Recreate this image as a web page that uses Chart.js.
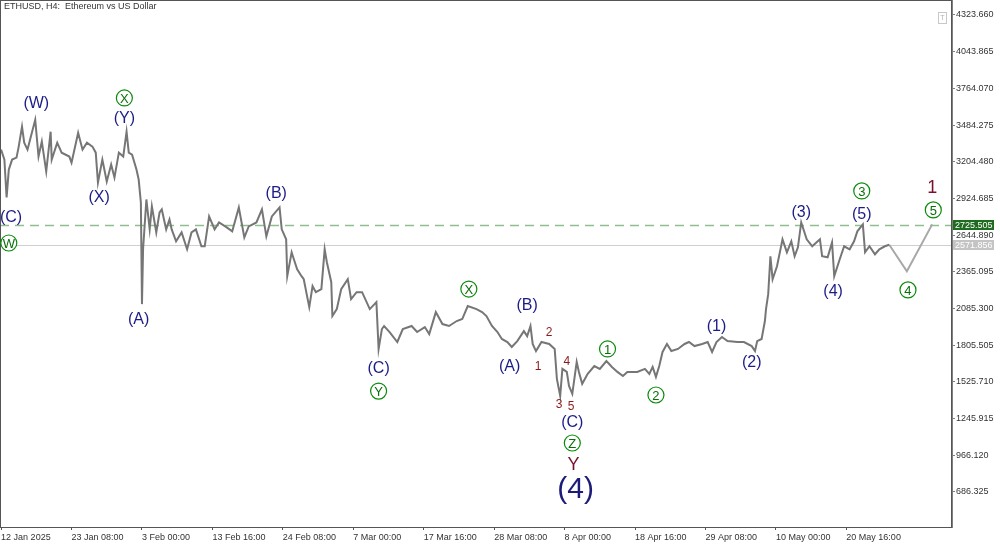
<!DOCTYPE html>
<html>
<head>
<meta charset="utf-8">
<script src="https://cdn.jsdelivr.net/npm/chart.js@4"></script>
<style>
  html, body { margin: 0; padding: 0; background: #fff; }
  #wrap { width: 1000px; height: 545px; }
</style>
</head>
<body>
<div id="wrap"><canvas id="ethChart" width="1000" height="545"></canvas></div>
<script>
// H4 bar index (64 bars between date ticks) and price
const barIndex = [0,3,5,7,10,14,16,19,21,24,27,31,34,37,41,45,46,51,55,62,64,70,74,78,83,86,88,92,96,100,103,107,111,114,116,119,123,125,127,128,129,132,135,137,141,144,146,150,153,155,159,164,169,173,177,182,185,189,194,198,205,210,216,221,225,232,237,241,246,253,255,259,260,264,266,269,273,275,278,280,283,286,291,294,296,300,301,305,309,315,318,323,328,335,341,343,346,348,353,360,365,373,378,385,389,395,401,407,414,419,424,432,437,441,446,451,455,460,464,469,475,478,481,483,486,491,498,503,505,508,510,514,516,519,523,525,528,533,539,544,550,555,560,565,569,578,585,589,592,595,598,601,605,609,615,621,625,630,637,642,646,650,655,660,669,675,682,685,687,691,694,695,697,699,701,705,710,714,718,721,724,727,732,737,744,746,751,755,757,762,766,771,775,778,783,785,789,794,798,803,807];
const closePrice = [3297,3221,2932,3145,3221,3236,3320,3472,3350,3297,3396,3525,3244,3358,3130,3434,3221,3350,3274,3244,3198,3426,3297,3350,3320,3274,3046,3221,3054,3183,3084,3274,3244,3434,3274,3259,3145,3069,2894,2119,2537,2917,2689,2864,2666,2818,2841,2689,2765,2689,2598,2666,2537,2666,2689,2560,2560,2788,2689,2742,2704,2674,2856,2628,2712,2742,2841,2636,2788,2856,2689,2613,2332,2514,2461,2385,2332,2309,2180,2096,2256,2210,2233,2537,2438,2286,2028,2081,2233,2309,2157,2210,2210,2081,2134,1777,1929,1952,1906,1830,1929,1952,1906,1944,1891,2058,1967,1952,1990,2005,2104,2081,2058,2028,1952,1906,1853,1830,1792,1837,1913,1875,1952,1815,1761,1830,1815,1777,1549,1419,1625,1602,1495,1435,1678,1602,1511,1587,1647,1625,1685,1640,1602,1571,1602,1602,1625,1587,1640,1564,1647,1754,1815,1761,1777,1815,1830,1799,1815,1830,1754,1830,1868,1837,1830,1830,1799,1761,1837,1853,1990,2081,2195,2484,2309,2408,2613,2514,2598,2484,2552,2742,2613,2560,2613,2484,2476,2590,2332,2461,2560,2537,2598,2674,2727,2514,2560,2499,2537,2560,2572];

// projected wave 4 / wave 5 path
const projBar = [807, 823, 846];
const projPrice = [2572, 2370, 2727];

const priceTicks = [4323.660,4043.865,3764.070,3484.275,3204.480,2924.685,2644.890,2365.095,2085.300,1805.505,1525.710,1245.915,966.120,686.325];
const dateTicks = [0,64,128,192,256,320,384,448,512,576,640,704,768];
const dateLabels = ['12 Jan 2025','23 Jan 08:00','3 Feb 00:00','13 Feb 16:00','24 Feb 08:00','7 Mar 00:00','17 Mar 16:00','28 Mar 08:00','8 Apr 00:00','18 Apr 16:00','29 Apr 08:00','10 May 00:00','20 May 16:00'];

const targetLevel = 2725.505;
const lastPrice = 2571.856;

// wave labels: kind n = navy, g = green circled, r = dark red
const waveLabels = [
    {t:'(W)', x:32,  y:3645, k:'n'},
    {t:'X',   x:112, y:3691, k:'g'},
    {t:'(Y)', x:112, y:3531, k:'n'},
    {t:'(X)', x:89,  y:2928, k:'n'},
    {t:'(C)', x:9,   y:2776, k:'n'},
    {t:'W',   x:7,   y:2585, k:'g'},
    {t:'(A)', x:125, y:1998, k:'n'},
    {t:'(B)', x:250, y:2959, k:'n'},
    {t:'(C)', x:343, y:1624, k:'n'},
    {t:'Y',   x:343, y:1456, k:'g'},
    {t:'X',   x:425, y:2234, k:'g'},
    {t:'(B)', x:478, y:2105, k:'n'},
    {t:'(A)', x:462, y:1639, k:'n'},
    {t:'1',   x:488, y:1639, k:'r'},
    {t:'2',   x:498, y:1899, k:'r'},
    {t:'3',   x:507, y:1350, k:'r'},
    {t:'4',   x:514, y:1677, k:'r'},
    {t:'5',   x:518, y:1334, k:'r'},
    {t:'(C)', x:519, y:1212, k:'n'},
    {t:'Z',   x:519, y:1060, k:'g'},
    {t:'Y',   x:520, y:892,  k:'R'},
    {t:'(4)', x:522, y:701,  k:'N'},
    {t:'1',   x:551, y:1777, k:'g'},
    {t:'2',   x:595, y:1426, k:'g'},
    {t:'(1)', x:650, y:1944, k:'n'},
    {t:'(2)', x:682, y:1670, k:'n'},
    {t:'(3)', x:727, y:2814, k:'n'},
    {t:'(5)', x:782, y:2798, k:'n'},
    {t:'3',   x:782, y:2982, k:'g'},
    {t:'(4)', x:756, y:2211, k:'n'},
    {t:'4',   x:824, y:2227, k:'g'},
    {t:'5',   x:847, y:2837, k:'g'},
    {t:'1',   x:846, y:3004, k:'R'}
];

const chartDecor = {
    id: 'chartDecor',
    beforeDatasetsDraw(chart) {
        const ctx = chart.ctx;
        const a = chart.chartArea;
        const y = chart.scales.y;
        ctx.save();
        // last price line
        ctx.strokeStyle = '#cfcfcf';
        ctx.lineWidth = 1;
        let py = Math.round(y.getPixelForValue(lastPrice)) + 0.5;
        ctx.beginPath(); ctx.moveTo(a.left, py); ctx.lineTo(a.right, py); ctx.stroke();
        // target level
        ctx.strokeStyle = '#8fbf8f';
        ctx.lineWidth = 1.5;
        ctx.setLineDash([9, 6]);
        py = Math.round(y.getPixelForValue(targetLevel)) + 0.5;
        ctx.beginPath(); ctx.moveTo(a.left, py); ctx.lineTo(a.right, py); ctx.stroke();
        ctx.restore();
    },
    afterDraw(chart) {
        const ctx = chart.ctx;
        const a = chart.chartArea;
        const xs = chart.scales.x;
        const ys = chart.scales.y;
        ctx.save();

        // frame
        ctx.strokeStyle = '#555';
        ctx.lineWidth = 1;
        ctx.strokeRect(a.left + 0.5, a.top + 0.5, a.right - a.left - 1, a.bottom - a.top);

        // title
        ctx.fillStyle = '#333';
        ctx.font = '9px "Liberation Sans", Arial, sans-serif';
        ctx.textAlign = 'left';
        ctx.textBaseline = 'middle';
        ctx.fillText('ETHUSD, H4:  Ethereum vs US Dollar', 4, 7);

        // small toggle box top right
        ctx.strokeStyle = '#c8c8c8';
        ctx.strokeRect(938.5, 12.5, 8, 11);
        ctx.fillStyle = '#b0b0b0';
        ctx.font = '7px "Liberation Sans", Arial, sans-serif';
        ctx.textAlign = 'center';
        ctx.fillText('T', 942.5, 18);

        // price boxes on the axis
        const boxes = [
            {v: targetLevel, bg: '#1f6b1f', fg: '#ffffff'},
            {v: lastPrice, bg: '#c4c4c4', fg: '#ffffff'}
        ];
        ctx.font = '9px "Liberation Sans", Arial, sans-serif';
        ctx.textAlign = 'left';
        boxes.forEach(b => {
            const py = ys.getPixelForValue(b.v);
            ctx.fillStyle = b.bg;
            ctx.fillRect(a.right + 1, Math.round(py) - 5, 41, 10);
            ctx.fillStyle = b.fg;
            ctx.fillText(b.v.toFixed(3), a.right + 3, py + 0.5);
        });

        // wave labels
        ctx.textAlign = 'center';
        waveLabels.forEach(l => {
            const px = xs.getPixelForValue(l.x);
            const py = ys.getPixelForValue(l.y);
            if (l.k === 'g') {
                ctx.beginPath();
                ctx.arc(px, py, 8, 0, Math.PI * 2);
                ctx.fillStyle = '#ffffff';
                ctx.fill();
                ctx.strokeStyle = '#0a8a0a';
                ctx.lineWidth = 1.2;
                ctx.stroke();
                ctx.fillStyle = '#0a6e0a';
                ctx.font = '13px "Liberation Sans", Arial, sans-serif';
                ctx.fillText(l.t, px, py + 1);
            } else if (l.k === 'n') {
                ctx.fillStyle = '#1c1c88';
                ctx.font = '16px "Liberation Sans", Arial, sans-serif';
                ctx.fillText(l.t, px, py);
            } else if (l.k === 'N') {
                ctx.fillStyle = '#1c1c78';
                ctx.font = '30px "Liberation Sans", Arial, sans-serif';
                ctx.fillText(l.t, px, py);
            } else if (l.k === 'r') {
                ctx.fillStyle = '#8b1a1a';
                ctx.font = '12px "Liberation Sans", Arial, sans-serif';
                ctx.fillText(l.t, px, py);
            } else {
                ctx.fillStyle = '#7a1030';
                ctx.font = '18px "Liberation Sans", Arial, sans-serif';
                ctx.fillText(l.t, px, py);
            }
        });
        ctx.restore();
    }
};

const ctx = document.getElementById('ethChart').getContext('2d');
new Chart(ctx, {
    type: 'line',
    data: {
        datasets: [{
            data: barIndex.map((b, i) => ({x: b, y: closePrice[i]})),
            borderColor: '#767676',
            borderWidth: 2,
            pointRadius: 0,
            tension: 0
        }, {
            data: projBar.map((b, i) => ({x: b, y: projPrice[i]})),
            borderColor: '#a8a8a8',
            borderWidth: 2,
            pointRadius: 0,
            tension: 0
        }]
    },
    options: {
        responsive: false,
        animation: false,
        devicePixelRatio: 1,
        layout: { padding: 0 },
        plugins: {
            legend: { display: false },
            tooltip: { enabled: false }
        },
        scales: {
            x: {
                type: 'linear',
                min: -1,
                max: 864,
                afterFit: s => { s.height = 18; s.paddingLeft = 0; s.paddingRight = 0; },
                afterBuildTicks: s => { s.ticks = dateTicks.map(v => ({value: v})); },
                grid: { drawOnChartArea: false, tickLength: 3, color: '#555' },
                border: { color: '#555' },
                ticks: {
                    align: 'start',
                    maxRotation: 0,
                    autoSkip: false,
                    padding: 2,
                    color: '#333',
                    font: { family: '"Liberation Sans", Arial, sans-serif', size: 9 },
                    callback: v => dateLabels[dateTicks.indexOf(v)]
                }
            },
            y: {
                position: 'right',
                min: 419.4,
                max: 4438.0,
                afterFit: s => { s.width = 48; s.paddingTop = 0; s.paddingBottom = 0; },
                afterBuildTicks: s => { s.ticks = priceTicks.map(v => ({value: v})); },
                grid: { drawOnChartArea: false, tickLength: 3, color: '#808080' },
                border: { color: '#808080' },
                ticks: {
                    autoSkip: false,
                    padding: 1,
                    color: '#333',
                    font: { family: '"Liberation Sans", Arial, sans-serif', size: 9 },
                    callback: v => v.toFixed(3)
                }
            }
        }
    },
    plugins: [chartDecor]
});
</script>
</body>
</html>
